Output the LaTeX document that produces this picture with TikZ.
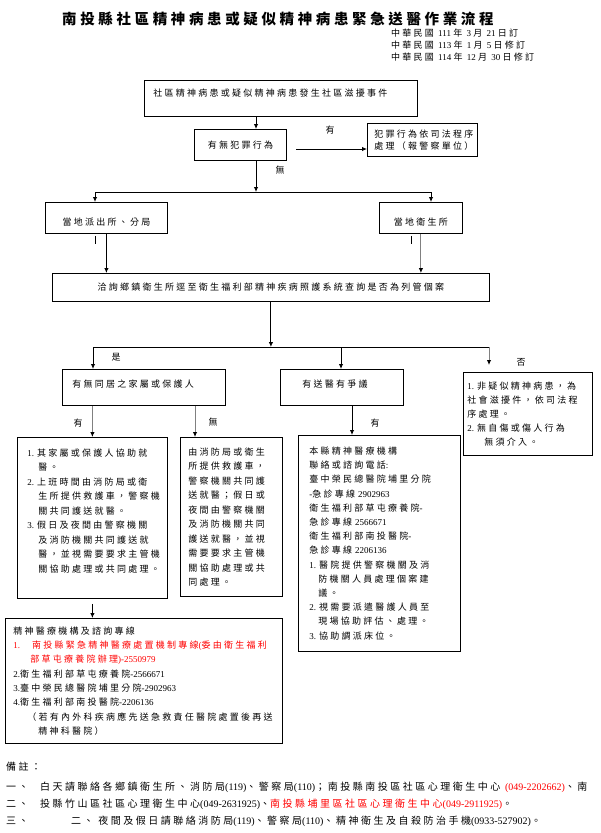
\documentclass[tikz,border=0pt]{standalone}
\usepackage{fontspec}
\setmainfont{Noto Sans CJK TC}[LetterSpace=25]
\newfontfamily\cjkfont{Noto Sans CJK TC}[LetterSpace=25]
\newfontfamily\latinfont{Liberation Serif}
\usetikzlibrary{arrows.meta, positioning, calc}

% Latin and CJK letters get their own font
\newXeTeXintercharclass\cjkcls
\newcount\cjkc
\def\cjkrange#1#2{\cjkc=#1\relax
  \loop\XeTeXcharclass\cjkc=\cjkcls\relax
  \ifnum\cjkc<#2\relax\advance\cjkc by 1\relax\repeat}
\cjkrange{"3000}{"303F}
\cjkrange{"4E00}{"9FFF}
\cjkrange{"FF00}{"FFEF}
\XeTeXinterchartokenstate=1
\XeTeXinterchartoks 0 \cjkcls = {\cjkfont}
\XeTeXinterchartoks 4095 \cjkcls = {\cjkfont}
\XeTeXinterchartoks \cjkcls 0 = {\latinfont}
\XeTeXinterchartoks 4095 0 = {\latinfont}

\begin{document}
\begin{tikzpicture}[x=1pt, y=-1pt,
    box/.style={draw, line width=0.8pt, anchor=north west, inner sep=0pt, font=\fontsize{9}{14.5}\selectfont},
    tag/.style={inner sep=1pt, font=\fontsize{9}{11}\selectfont},
    foot/.style={anchor=west, inner sep=0pt, font=\fontsize{10}{12}\selectfont},
    arr/.style={-{Latex[length=5pt,width=4.5pt]}, line width=0.9pt},
    garr/.style={arr, draw=gray, -{Latex[length=5pt,width=4.5pt,color=black]}}]
    \useasboundingbox (0,0) rectangle (600,833);

    \node[anchor=west, inner sep=0pt, font=\fontsize{14.5}{16}\selectfont\bfseries] (title) at (62,19) {南投縣社區精神病患或疑似精神病患緊急送醫作業流程};
    \node[anchor=north west, align=left, inner sep=0pt, font=\fontsize{9}{12}\selectfont] (rev) at (391,29) {中華民國 111 年 3 月 21 日訂\\中華民國 113 年 1 月 5 日修訂\\中華民國 114 年 12 月 30 日修訂};

    % top of the flow
    \node[box, minimum width=273pt, minimum height=36pt, text width=255pt, inner xsep=9pt, align=left, text height=4pt, text depth=7.2pt] (A) at (144,80) {社區精神病患或疑似精神病患發生社區滋擾事件};
    \node[box, minimum width=92pt, minimum height=31pt] (B) at (194,129) {有無犯罪行為};
    \node[box, minimum width=110pt, minimum height=33pt, text width=96pt, inner xsep=7pt, align=left, font=\fontsize{9}{11.5}\selectfont] (C) at (367,123) {犯罪行為依司法程序\\處理（報警察單位）};
    \node[box, minimum width=122pt, minimum height=31pt, text height=17pt, text depth=1.2pt] (D) at (45,202) {當地派出所、分局};
    \node[box, minimum width=83pt, minimum height=31pt, text height=17pt, text depth=1.2pt] (E) at (379,202) {當地衛生所};
    \node[box, minimum width=437pt, minimum height=28pt] (F) at (52,273) {洽詢鄉鎮衛生所逕至衛生福利部精神疾病照護系統查詢是否為列管個案};

    % second level
    \node[box, minimum width=163pt, minimum height=36pt, text width=143pt, inner xsep=10pt, align=left, text height=5pt, text depth=4.2pt] (G) at (62,369) {有無同居之家屬或保護人};
    \node[box, minimum width=123pt, minimum height=36pt, text width=79pt, inner xsep=22pt, align=left, text height=5pt, text depth=4.2pt] (H) at (280,369) {有送醫有爭議};
    \node[box, minimum width=129pt, minimum height=83pt, text width=121pt, inner xsep=4pt, align=left, font=\fontsize{9}{14}\selectfont] (I) at (463,372) {1.~非疑似精神病患，為\\社會滋擾件，依司法程\\序處理。\\2.~無自傷或傷人行為\\\hspace*{17pt}無須介入。};

    \node[box, minimum width=150pt, minimum height=161pt, text width=130pt, inner xsep=10pt, align=left] (J) at (17,437) {1.~其家屬或保護人協助就\\\hspace*{11pt}醫。\\2.~上班時間由消防局或衛\\\hspace*{11pt}生所提供救護車，警察機\\\hspace*{11pt}關共同護送就醫。\\3.~假日及夜間由警察機關\\\hspace*{11pt}及消防機關共同護送就\\\hspace*{11pt}醫，並視需要要求主管機\\\hspace*{11pt}關協助處理或共同處理。\\\mbox{}};
    \node[box, minimum width=102pt, minimum height=159pt, text width=86pt, inner xsep=8pt, align=left] (K) at (180,437) {由消防局或衛生\\所提供救護車，\\警察機關共同護\\送就醫；假日或\\夜間由警察機關\\及消防機關共同\\護送就醫，並視\\需要要求主管機\\關協助處理或共\\同處理。};
    \node[box, minimum width=162pt, minimum height=216pt, text width=140pt, inner xsep=11pt, align=left, font=\fontsize{9}{14.2}\selectfont] (L) at (298,435) {本縣精神醫療機構\\聯絡或諮詢電話:\\臺中榮民總醫院埔里分院\\-急診專線~2902963\\衛生福利部草屯療養院-\\急診專線~2566671\\衛生福利部南投醫院-\\急診專線~2206136\\1.~醫院提供警察機關及消\\\hspace*{9pt}防機關人員處理個案建\\\hspace*{9pt}議。\\2.~視需要派遣醫護人員至\\\hspace*{9pt}現場協助評估、處理。\\3.~協助調派床位。};
    \node[box, minimum width=277pt, minimum height=125pt, text width=261pt, inner xsep=8pt, align=left, font=\fontsize{9}{14.3}\selectfont] (M) at (5,618) {精神醫療機構及諮詢專線\\\textcolor{red}{1.\hspace*{12pt}南投縣緊急精神醫療處置機制專線(委由衛生福利}\\\textcolor{red}{\hspace*{17pt}部草屯療養院辦理)-2550979}\\2.衛生福利部草屯療養院-2566671\\3.臺中榮民總醫院埔里分院-2902963\\4.衛生福利部南投醫院-2206136\\\hspace*{14pt}（若有內外科疾病應先送急救責任醫院處置後再送\\\hspace*{25pt}精神科醫院）};

    % connectors
    \coordinate (s1) at (256,192);
    \coordinate (dL) at (95,192);
    \coordinate (dR) at (431,192);
    \coordinate (c1) at (296,149);
    \coordinate (gL) at (93,347);
    \coordinate (hM) at (341,347);
    \coordinate (iR) at (489,347);
    \coordinate (gk) at (195,0);
    \coordinate (hl) at (352,0);

    \draw[arr] (A.south -| s1) -- (B.north -| s1);
    \draw[arr] (c1) -- (c1 -| C.west);
    \draw[arr] (B.south -| s1) -- (s1);
    \draw[line width=0.9pt] (dL) -- (dR);
    \draw[arr] (dL) -- (dL |- D.north);
    \draw[arr] (dR) -- (dR |- E.north);
    \draw[line width=0.8pt] ($(D.south)+(-11,2)$) -- ++(0,8);
    \draw[line width=0.8pt] ($(E.south)+(-9.5,2)$) -- ++(0,8);
    \draw[arr] (D.south) -- (D.south |- F.north);
    \draw[garr] (E.south) -- (E.south |- F.north);
    \draw[arr] (F.south) -- (F.south |- gL);
    \draw[line width=0.9pt] (gL) -- (iR);
    \draw[arr] (gL) -- (gL |- G.north);
    \draw[arr] (hM) -- (hM |- H.north);
    \draw[garr, shorten >=7pt] (iR) -- (iR |- I.north);
    \draw[garr] (J.north |- G.south) -- (J.north);
    \draw[garr] (gk |- G.south) -- (gk |- K.north);
    \draw[arr] (hl |- H.south) -- (hl |- L.north);
    \draw[arr, shorten <=5pt] (J.south) -- (J.south |- M.north);

    \node[tag] (yes1) at (330,130) {有};
    \node[tag] (no1) at (280,170) {無};
    \node[tag] (shi) at (116,357) {是};
    \node[tag] (fou) at (521,362) {否};
    \node[tag] (yes2) at (78,423) {有};
    \node[tag] (no2) at (213,422) {無};
    \node[tag] (yes3) at (375,423) {有};

    % remarks
    \node[foot] (rem) at (6,767) {備註：};
    \node[foot] (r1) at (6,787) {\makebox[34pt][l]{一、}白天請聯絡各鄉鎮衛生所、消防局(119)、警察局(110)；南投縣南投區社區心理衛生中心 \textcolor{red}{(049-2202662)}、南};
    \node[foot] (r2) at (6,804) {\makebox[34pt][l]{二、}投縣竹山區社區心理衛生中心(049-2631925)、\textcolor{red}{南投縣埔里區社區心理衛生中心(049-2911925)}。};
    \node[foot] (r3) at (6,821) {\makebox[65pt][l]{三、}二、 夜間及假日請聯絡消防局(119)、警察局(110)、精神衛生及自殺防治手機(0933-527902)。};
\end{tikzpicture}
\end{document}
